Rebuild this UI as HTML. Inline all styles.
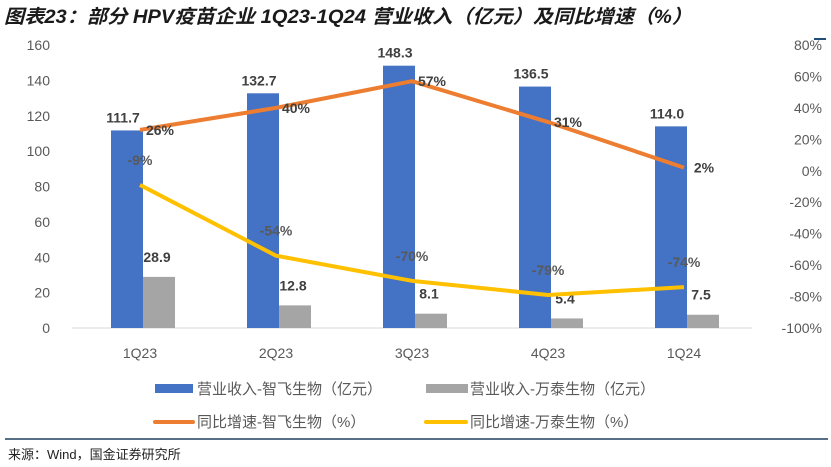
<!DOCTYPE html>
<html><head><meta charset="utf-8"><style>
body{margin:0;background:#fff;width:831px;height:467px;overflow:hidden;font-family:"Liberation Sans","Noto Sans CJK SC",sans-serif}
</style></head><body>
<svg width="831" height="467" style="position:absolute;left:0;top:0">
<text x="4" y="23" font-size="19" font-style="italic" font-weight="bold" fill="#1a1a1a" textLength="688" lengthAdjust="spacingAndGlyphs" font-family="'Liberation Sans','Noto Sans CJK SC',sans-serif">图表23：部分 HPV疫苗企业 1Q23-1Q24 营业收入（亿元）及同比增速（%）</text>
<line x1="814" y1="39" x2="826" y2="39" stroke="#1f4e79" stroke-width="2"/>
<g id="plot"></g>
<g font-size="15" fill="#595959">
<rect x="155" y="384" width="38" height="9" fill="#4472c4"/>
<text x="197" y="394">营业收入-智飞生物（亿元）</text>
<rect x="426" y="384" width="42" height="9" fill="#a5a5a5"/>
<text x="470" y="394">营业收入-万泰生物（亿元）</text>
<line x1="155" y1="422" x2="193" y2="422" stroke="#ed7d31" stroke-width="4" stroke-linecap="round"/>
<text x="197" y="427">同比增速-智飞生物（%）</text>
<line x1="426" y1="422" x2="466" y2="422" stroke="#ffc000" stroke-width="4" stroke-linecap="round"/>
<text x="470" y="427">同比增速-万泰生物（%）</text>
</g>
<line x1="5" y1="439" x2="828" y2="439" stroke="#1f3f5f" stroke-width="1.5"/>
<text x="8" y="459" font-size="13" fill="#222">来源：Wind，国金证券研究所</text>
</svg>
<script>
const categories=["1Q23","2Q23","3Q23","4Q23","1Q24"];
const zhifeiRevenue=[111.7,132.7,148.3,136.5,114.0];
const wantaiRevenue=[28.9,12.8,8.1,5.4,7.5];
const zhifeiGrowth=[26,40,57,31,2];
const wantaiGrowth=[-9,-54,-70,-79,-74];
const leftTicks=[0,20,40,60,80,100,120,140,160];
const rightTicks=[-100,-80,-60,-40,-20,0,20,40,60,80];
const NS="http://www.w3.org/2000/svg";
const g=document.getElementById("plot");
const topY=45,botY=328,x0=72,step=136;
const yL=v=>botY-(v/160)*(botY-topY);
const yR=v=>botY-((v+100)/180)*(botY-topY);
const xC=i=>x0+step*(i+0.5);
function mk(t,a,txt){const e=document.createElementNS(NS,t);for(const k in a)e.setAttribute(k,a[k]);if(txt!==undefined)e.textContent=txt;g.appendChild(e);return e;}
leftTicks.forEach(v=>{const e=mk("text",{x:50,y:yL(v)+5,"font-size":14,fill:"#595959","text-anchor":"end"},v);

});
rightTicks.forEach(v=>{const e=mk("text",{x:822,y:yR(v)+5,"font-size":14,fill:"#595959","text-anchor":"end"},v+"%");

});
const ax=mk("line",{x1:x0,y1:botY,x2:x0+step*5,y2:botY,stroke:"#d9d9d9"});


categories.forEach((c,i)=>{
const cx=xC(i)+3;
const t=mk("text",{x:cx-3,y:358,"font-size":14,fill:"#595959","text-anchor":"middle"},c);


const b=mk("rect",{x:cx-32,y:yL(zhifeiRevenue[i]),width:32,height:botY-yL(zhifeiRevenue[i]),fill:"#4472c4"});


const b2=mk("rect",{x:cx,y:yL(wantaiRevenue[i]),width:32,height:botY-yL(wantaiRevenue[i]),fill:"#a5a5a5"});


const l1=mk("text",{x:cx-20,y:yL(zhifeiRevenue[i])-8,"font-size":14,"font-weight":"bold",fill:"#404040","text-anchor":"middle"},zhifeiRevenue[i].toFixed(1));


const l2=mk("text",{x:cx+14,y:yL(wantaiRevenue[i])-15,"font-size":14,"font-weight":"bold",fill:"#404040","text-anchor":"middle"},wantaiRevenue[i].toFixed(1));


});
const p1=mk("polyline",{points:zhifeiGrowth.map((v,i)=>xC(i)+","+yR(v)).join(" "),fill:"none",stroke:"#ed7d31","stroke-width":4,"stroke-linejoin":"round"});


const p2=mk("polyline",{points:wantaiGrowth.map((v,i)=>xC(i)+","+yR(v)).join(" "),fill:"none",stroke:"#ffc000","stroke-width":4,"stroke-linejoin":"round"});


zhifeiGrowth.forEach((v,i)=>{const t=mk("text",{x:xC(i)+20,y:yR(v)+5,"font-size":14,"font-weight":"bold",fill:"#404040","text-anchor":"middle"},v+"%");

});
wantaiGrowth.forEach((v,i)=>{const t=mk("text",{x:xC(i),y:yR(v)-20,"font-size":14,"font-weight":"bold",fill:"#595959","text-anchor":"middle"},v+"%");

});
</script>
</body></html>
